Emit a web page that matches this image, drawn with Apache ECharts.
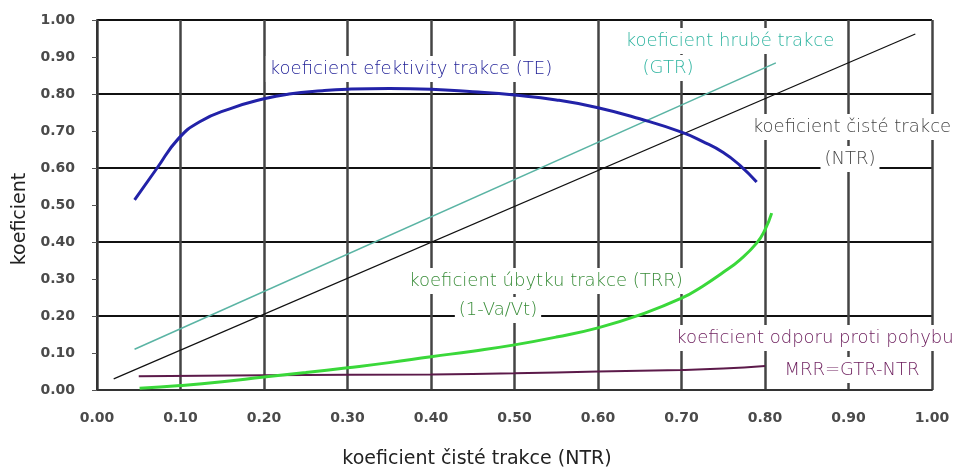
<!DOCTYPE html>
<html>
<head>
<meta charset="utf-8">
<script src="https://cdn.jsdelivr.net/npm/echarts@6/dist/echarts.min.js"></script>
<style>
  html, body { margin: 0; padding: 0; background: #fff; }
  #main { width: 962px; height: 473px; }
</style>
</head>
<body>
<div id="main"></div>
<script>
// osa x = koeficient cisté trakce (NTR)
var xTicks = ['0.00', '0.10', '0.20', '0.30', '0.40', '0.50', '0.60', '0.70', '0.80', '0.90', '1.00']

// koeficient efektivity trakce (TE)
var teX = [0.045, 0.072, 0.097, 0.123, 0.159, 0.20, 0.23, 0.27, 0.30, 0.35, 0.40, 0.45, 0.50, 0.55, 0.60, 0.65, 0.70, 0.725, 0.75, 0.77, 0.79]
var teY = [0.514, 0.60, 0.678, 0.725, 0.76, 0.787, 0.80, 0.809, 0.813, 0.815, 0.813, 0.806, 0.797, 0.784, 0.763, 0.733, 0.697, 0.672, 0.642, 0.607, 0.562]

// koeficient hrubé trakce (GTR)
var gtrX = [0.045, 0.813]
var gtrY = [0.11, 0.884]

// koeficient cisté trakce (NTR)
var ntrX = [0.02, 0.98]
var ntrY = [0.03, 0.962]

// koeficient úbytku trakce (TRR)
var trrX = [0.051, 0.10, 0.15, 0.20, 0.25, 0.30, 0.35, 0.40, 0.45, 0.50, 0.55, 0.60, 0.65, 0.70, 0.725, 0.75, 0.77, 0.79, 0.80, 0.808]
var trrY = [0.005, 0.012, 0.022, 0.035, 0.047, 0.06, 0.074, 0.09, 0.105, 0.122, 0.143, 0.168, 0.203, 0.248, 0.28, 0.318, 0.352, 0.397, 0.433, 0.478]

// koeficient odporu proti pohybu (MRR)
var mrrX = [0.05, 0.20, 0.40, 0.50, 0.60, 0.70, 0.75, 0.80]
var mrrY = [0.037, 0.04, 0.042, 0.045, 0.05, 0.054, 0.058, 0.065]

function pairs(xs, ys) {
  return xs.map(function (x, i) { return [x, ys[i]] })
}

var chart = echarts.init(document.getElementById('main'))

var labelFont = '300 18px "DejaVu Sans", sans-serif'

function note(text, x, y, color) {
  return {
    type: 'text',
    x: x,
    y: y,
    z: 1,
    style: {
      text: text,
      font: labelFont,
      fill: color,
      align: 'center',
      verticalAlign: 'middle',
      backgroundColor: '#fff',
      padding: [4, 4]
    }
  }
}

var tickLabel = {
  color: '#4a4a4a',
  fontFamily: 'DejaVu Sans',
  fontWeight: 'bold',
  fontSize: 14
}

var option = {
  animation: false,
  backgroundColor: '#fff',
  grid: { left: 97, right: 30, top: 20, bottom: 83 },
  xAxis: {
    type: 'value',
    min: 0,
    max: 1,
    interval: 0.1,
    axisLine: { show: true, lineStyle: { color: '#333', width: 2 } },
    axisTick: { show: false },
    axisLabel: Object.assign({
      margin: 21,
      formatter: function (v) { return xTicks[Math.round(v * 10)] }
    }, tickLabel),
    splitLine: { show: true, lineStyle: { color: '#444', width: 2.5 } }
  },
  yAxis: [
    {
      type: 'value',
      min: 0,
      max: 1,
      interval: 0.1,
      axisLine: { show: true, lineStyle: { color: '#333', width: 2 } },
      axisTick: { show: true, length: 5, lineStyle: { color: '#555' } },
      axisLabel: Object.assign({
        margin: 22,
        formatter: function (v) { return v.toFixed(2) }
      }, tickLabel),
      splitLine: { show: false }
    },
    {
      type: 'value',
      min: 0,
      max: 1,
      interval: 0.2,
      position: 'left',
      axisLine: { show: false },
      axisTick: { show: false },
      axisLabel: { show: false },
      splitLine: { show: true, lineStyle: { color: '#111', width: 2 } }
    }
  ],
  series: [
    {
      name: 'NTR',
      type: 'line',
      showSymbol: false,
      data: pairs(ntrX, ntrY),
      lineStyle: { color: '#111', width: 1.2 }
    },
    {
      name: 'GTR',
      type: 'line',
      showSymbol: false,
      data: pairs(gtrX, gtrY),
      lineStyle: { color: '#5ab4a4', width: 1.5 }
    },
    {
      name: 'MRR',
      type: 'line',
      showSymbol: false,
      smooth: true,
      data: pairs(mrrX, mrrY),
      lineStyle: { color: '#5c1a4a', width: 2 }
    },
    {
      name: 'TRR',
      type: 'line',
      showSymbol: false,
      smooth: 0.5,
      data: pairs(trrX, trrY),
      lineStyle: { color: '#3ad83a', width: 3 }
    },
    {
      name: 'TE',
      type: 'line',
      showSymbol: false,
      smooth: 0.5,
      data: pairs(teX, teY),
      lineStyle: { color: '#2222a8', width: 3 }
    }
  ],
  graphic: [
    note('koeficient efektivity trakce (TE)', 411, 69, '#1e1e96'),
    note('koeficient hrubé trakce', 730, 41, '#2eb4a0'),
    note('(GTR)', 668, 68, '#2eb4a0'),
    note('koeficient čisté trakce', 852, 127, '#444'),
    note('(NTR)', 850, 159, '#444'),
    note('koeficient úbytku trakce (TRR)', 546, 281, '#388c38'),
    note('(1-Va/Vt)', 498, 310, '#388c38'),
    note('koeficient odporu proti pohybu', 815, 338, '#6a1a5a'),
    note('MRR=GTR-NTR', 852, 370, '#6a1a5a'),
    {
      type: 'text',
      x: 477,
      y: 459,
      style: {
        text: 'koeficient čisté trakce (NTR)',
        font: '19px "DejaVu Sans", sans-serif',
        fill: '#222',
        align: 'center',
        verticalAlign: 'middle'
      }
    },
    {
      type: 'text',
      x: 20,
      y: 219,
      rotation: Math.PI / 2,
      style: {
        text: 'koeficient',
        font: '19px "DejaVu Sans", sans-serif',
        fill: '#222',
        align: 'center',
        verticalAlign: 'middle'
      }
    }
  ]
}

chart.setOption(option)
</script>
</body>
</html>
